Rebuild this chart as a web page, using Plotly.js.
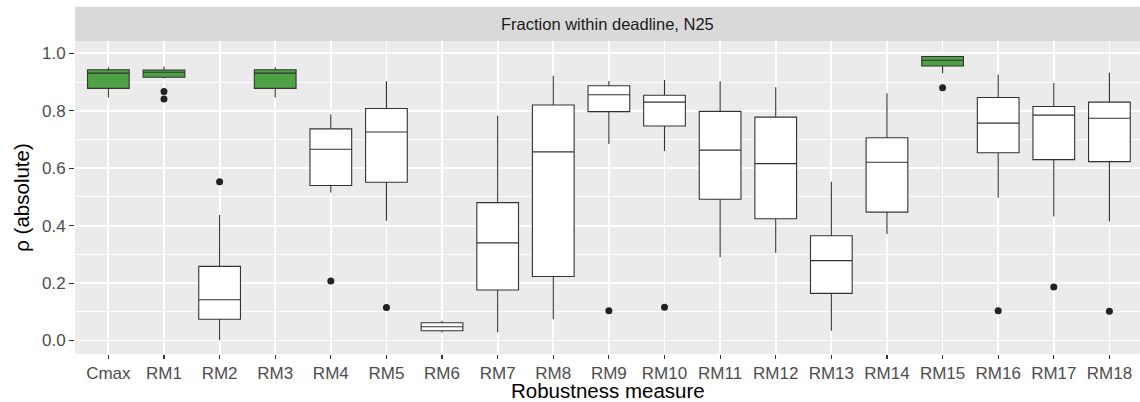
<!DOCTYPE html>
<html>
<head>
<meta charset="utf-8">
<script src="https://cdn.plot.ly/plotly-3.0.1.min.js"></script>
<style>html,body{margin:0;padding:0;background:#fff;}#chart{width:1140px;height:402px;}</style>
</head>
<body>
<div id="chart"></div>
<script>
// Categories (Robustness measures)
const categories = ["Cmax","RM1","RM2","RM3","RM4","RM5","RM6","RM7","RM8","RM9","RM10","RM11","RM12","RM13","RM14","RM15","RM16","RM17","RM18"];
// Highlighted (green) measures
const highlighted = ["Cmax","RM1","RM3","RM15"];
// Box statistics per category
const lowerWhisker = [0.846,0.912,0.002,0.846,0.515,0.417,0.028,0.029,0.074,0.684,0.660,0.290,0.306,0.034,0.371,0.931,0.497,0.432,0.414];
const q1Values     = [0.878,0.917,0.074,0.878,0.540,0.551,0.034,0.176,0.223,0.797,0.747,0.492,0.424,0.164,0.447,0.956,0.654,0.630,0.623];
const medianValues = [0.931,0.934,0.142,0.931,0.666,0.726,0.048,0.340,0.657,0.856,0.830,0.663,0.616,0.278,0.621,0.976,0.757,0.785,0.774];
const q3Values     = [0.943,0.942,0.258,0.943,0.737,0.808,0.062,0.480,0.820,0.887,0.854,0.798,0.778,0.365,0.706,0.989,0.846,0.815,0.830];
const upperWhisker = [0.952,0.954,0.437,0.952,0.788,0.903,0.069,0.783,0.922,0.904,0.907,0.903,0.882,0.553,0.861,0.992,0.926,0.897,0.932];
// Outliers
const outlierCategory = ["RM1","RM1","RM2","RM4","RM5","RM9","RM10","RM15","RM16","RM17","RM18"];
const outlierValue    = [0.867,0.841,0.553,0.207,0.115,0.104,0.116,0.880,0.104,0.186,0.102];

const GREEN = "#4FA145";
const FONT = "'Liberation Sans', Arial, Helvetica, sans-serif";

function boxTrace(sel, fill) {
  const idx = categories.map((c,i)=>i).filter(i => sel(categories[i]));
  return {
    type: "box",
    x: idx.map(i=>categories[i]),
    q1: idx.map(i=>q1Values[i]),
    median: idx.map(i=>medianValues[i]),
    q3: idx.map(i=>q3Values[i]),
    lowerfence: idx.map(i=>lowerWhisker[i]),
    upperfence: idx.map(i=>upperWhisker[i]),
    width: 0.75,
    whiskerwidth: 0,
    fillcolor: fill,
    line: {color: "#333333", width: 1.1},
    boxpoints: false,
    showlegend: false,
    hoverinfo: "skip"
  };
}

const traces = [
  boxTrace(c => highlighted.includes(c), GREEN),
  boxTrace(c => !highlighted.includes(c), "#FFFFFF"),
  {
    type: "scatter", mode: "markers",
    x: outlierCategory, y: outlierValue,
    marker: {color: "#222222", size: 7},
    showlegend: false, hoverinfo: "skip"
  }
];

const plotTop = 41, plotBottom = 354.3;
const plotH = plotBottom - plotTop;
const layout = {
  width: 1140, height: 402,
  margin: {l: 75, r: 0, t: plotTop, b: 402 - plotBottom, pad: 0},
  paper_bgcolor: "#FFFFFF",
  plot_bgcolor: "#EBEBEB",
  boxmode: "overlay",
  font: {family: FONT, color: "#4D4D4D"},
  xaxis: {
    type: "category",
    categoryorder: "array", categoryarray: categories,
    range: [-0.6, 18.55],
    showgrid: true, gridcolor: "#FFFFFF", gridwidth: 1.8,
    zeroline: false, showline: false,
    ticks: "outside", ticklen: 4, tickwidth: 1.1, tickcolor: "#333333",
    tickfont: {family: FONT, size: 17, color: "#4D4D4D"},
    fixedrange: true
  },
  yaxis: {
    range: [-0.047, 1.043],
    tickvals: [0, 0.2, 0.4, 0.6, 0.8, 1.0],
    ticktext: ["0.0","0.2","0.4","0.6","0.8","1.0"],
    showgrid: true, gridcolor: "#FFFFFF", gridwidth: 1.8,
    minor: {tickvals: [0.1, 0.3, 0.5, 0.7, 0.9], showgrid: true, gridcolor: "#FFFFFF", gridwidth: 0.9, ticks: ""},
    zeroline: false, showline: false,
    ticks: "outside", ticklen: 5, tickwidth: 1.1, tickcolor: "#333333",
    tickfont: {family: FONT, size: 17, color: "#4D4D4D"},
    title: {text: "ρ (absolute)", font: {family: FONT, size: 20.5, color: "#000000"}, standoff: 6},
    fixedrange: true
  },
  shapes: [{
    type: "rect", xref: "paper", yref: "paper",
    x0: 0, x1: 1, y0: 1, y1: 1 + 34.3 / plotH,
    fillcolor: "#D9D9D9", line: {width: 0}, layer: "below"
  }],
  annotations: [{
    text: "Fraction within deadline, N25",
    xref: "paper", yref: "paper", x: 0.5, y: 1 + 17.15 / plotH,
    xanchor: "center", yanchor: "middle", showarrow: false,
    font: {family: FONT, size: 16.5, color: "#1A1A1A"}
  }, {
    text: "Robustness measure",
    xref: "paper", yref: "paper", x: 0.5, y: -(390.5 - plotBottom) / plotH,
    xanchor: "center", yanchor: "middle", showarrow: false,
    font: {family: FONT, size: 20.5, color: "#000000"}
  }]
};

Plotly.newPlot("chart", traces, layout, {displayModeBar: false, staticPlot: true});
</script>
</body>
</html>
